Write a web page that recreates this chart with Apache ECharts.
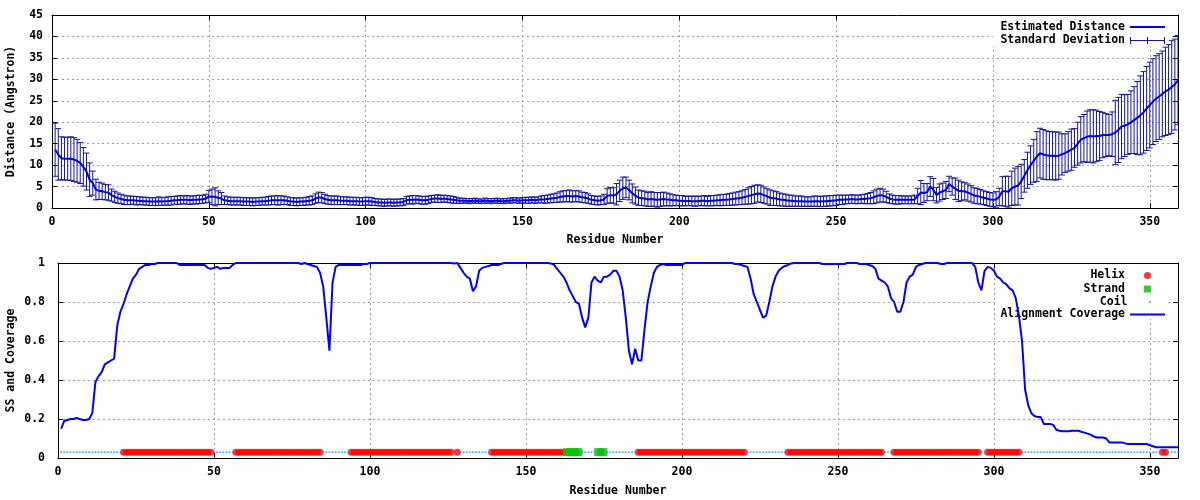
<!DOCTYPE html>
<html><head><meta charset="utf-8">
<script src="https://cdn.jsdelivr.net/npm/echarts@6/dist/echarts.min.js"></script>
<style>html,body{margin:0;padding:0;background:#fff}#c{width:1200px;height:500px}</style>
</head><body><div id="c"></div>
<script>
// ---- data (residue 1 .. 359) ----
const firstResidue = 1;
const distance = [
13.6,12.5,11.6,11.5,11.5,11.5,11.3,11.0,10.5,9.6,
8.5,6.6,5.8,4.3,4.0,3.9,3.7,3.6,3.0,2.6,
2.3,2.1,1.9,1.8,1.8,1.8,1.7,1.7,1.6,1.6,
1.5,1.5,1.5,1.6,1.5,1.6,1.6,1.7,1.8,1.8,
1.9,1.9,1.9,1.8,1.9,1.9,2.0,2.0,2.2,2.7,
2.6,2.6,2.4,2.2,1.8,1.7,1.6,1.6,1.6,1.6,
1.5,1.5,1.5,1.4,1.5,1.5,1.6,1.6,1.7,1.8,
1.8,1.8,1.8,1.8,1.7,1.5,1.5,1.4,1.5,1.5,
1.6,1.7,1.8,2.2,2.5,2.4,2.1,1.9,1.8,1.8,
1.8,1.7,1.7,1.7,1.6,1.6,1.6,1.5,1.5,1.6,
1.6,1.5,1.4,1.3,1.3,1.2,1.3,1.3,1.2,1.3,
1.3,1.4,1.8,1.9,1.9,2.0,1.9,1.8,1.8,1.9,
2.1,2.2,2.2,2.1,2.2,2.1,2.0,1.9,1.8,1.7,
1.7,1.7,1.6,1.7,1.7,1.6,1.6,1.7,1.7,1.6,
1.7,1.7,1.6,1.6,1.7,1.7,1.8,1.8,1.7,1.8,
1.8,1.8,1.9,1.8,1.9,2.0,2.0,2.1,2.2,2.3,
2.4,2.6,2.7,2.8,2.8,2.7,2.8,2.7,2.5,2.4,
2.2,1.9,1.8,1.7,1.8,2.0,2.8,3.0,2.9,3.2,
4.0,4.6,4.8,4.2,3.4,2.9,2.4,2.3,2.2,2.0,
2.1,2.0,1.9,2.0,2.1,2.0,1.9,1.8,1.8,1.7,
1.7,1.6,1.7,1.6,1.6,1.6,1.7,1.7,1.6,1.7,
1.7,1.8,1.8,1.9,1.9,2.0,2.1,2.2,2.3,2.4,
2.6,2.8,3.0,3.2,3.4,3.3,3.0,2.7,2.4,2.3,
2.2,2.0,1.9,1.8,1.7,1.7,1.6,1.6,1.6,1.5,
1.5,1.5,1.6,1.6,1.5,1.6,1.6,1.7,1.7,1.8,
1.9,1.9,2.0,2.0,2.1,2.0,2.0,2.1,2.1,2.2,
2.3,2.5,2.8,3.0,2.9,2.6,2.2,2.0,1.9,1.9,
1.9,1.9,1.9,1.9,2.0,2.8,3.6,3.5,3.7,5.0,
4.3,3.0,3.6,3.9,4.2,5.6,5.0,4.5,4.0,3.9,
3.9,3.6,3.3,2.9,2.8,2.6,2.4,2.2,2.0,1.9,
2.0,2.6,3.9,3.9,3.8,4.6,5.0,5.2,6.2,7.5,
8.8,10.0,11.0,12.0,12.8,12.5,12.3,12.2,12.2,12.1,
12.2,12.5,12.8,13.2,13.6,14.0,15.0,15.9,16.3,16.6,
16.8,16.7,16.8,16.8,17.0,17.0,17.0,17.2,17.6,18.2,
19.0,19.2,19.5,20.0,20.5,21.0,21.6,22.3,23.2,24.0,
24.8,25.5,26.0,26.6,27.2,27.6,28.2,28.8,29.8
];
const stdDev = [
6.2,6.0,5.0,5.0,5.0,5.1,5.1,5.0,4.8,4.5,
4.3,3.9,2.8,2.4,2.0,1.9,1.8,1.8,1.4,1.3,
1.2,1.1,1.1,1.0,1.0,0.9,1.0,0.9,0.9,0.9,
0.9,0.9,0.9,1.0,0.9,0.9,1.0,1.0,0.9,1.0,
1.0,0.9,1.0,1.0,0.9,1.0,1.0,0.9,1.0,1.4,
1.8,2.1,1.6,1.4,1.0,0.9,0.9,0.9,0.9,0.9,
0.9,0.9,0.9,0.9,0.9,0.9,0.9,0.9,1.0,1.0,
1.0,1.1,1.0,1.0,0.9,0.9,0.9,0.9,0.9,0.9,
0.9,1.0,1.0,1.1,1.2,1.2,1.1,1.0,1.0,1.0,
1.0,0.9,0.9,0.9,0.9,0.9,0.9,0.9,0.9,0.9,
0.9,0.9,0.8,0.8,0.8,0.8,0.8,0.8,0.8,0.8,
0.8,0.8,0.9,0.9,1.0,0.9,0.9,0.9,0.9,0.9,
0.8,0.8,0.9,0.8,0.8,0.8,0.8,0.8,0.7,0.6,
0.6,0.5,0.6,0.5,0.6,0.5,0.5,0.6,0.5,0.6,
0.5,0.6,0.5,0.6,0.5,0.6,0.6,0.6,0.6,0.6,
0.7,0.7,0.7,0.7,0.7,0.8,0.9,0.9,1.0,1.0,
1.1,1.2,1.3,1.3,1.4,1.3,1.3,1.3,1.2,1.2,
1.1,1.0,1.0,1.0,1.0,1.2,1.7,1.8,1.8,2.5,
2.5,2.6,2.4,2.3,2.2,2.0,1.8,1.7,1.7,1.6,
1.7,1.6,1.7,1.6,1.6,1.5,1.4,1.3,1.2,1.2,
1.2,1.1,1.1,1.1,1.2,1.1,1.1,1.2,1.1,1.2,
1.2,1.2,1.3,1.3,1.3,1.4,1.4,1.5,1.5,1.6,
1.7,1.9,2.0,2.1,2.0,2.0,1.9,1.8,1.8,1.7,
1.6,1.5,1.4,1.4,1.3,1.3,1.2,1.2,1.2,1.1,
1.1,1.1,1.2,1.2,1.2,1.2,1.2,1.2,1.2,1.2,
1.1,1.1,1.0,1.0,1.0,1.0,1.0,1.0,1.1,1.2,
1.3,1.5,1.6,1.6,1.5,1.3,1.1,1.0,1.0,1.0,
0.9,0.9,0.9,0.9,1.0,1.8,2.8,2.2,2.0,2.3,
2.6,1.8,2.0,1.9,2.0,1.8,2.0,2.5,2.5,2.2,
2.0,2.0,1.9,1.8,1.8,1.7,1.6,1.6,1.6,1.6,
1.8,2.0,3.4,3.5,3.6,4.0,4.3,4.5,4.0,3.8,
4.2,4.5,5.0,5.8,5.8,5.8,5.7,5.6,5.6,5.6,
5.5,4.8,4.5,4.6,4.8,4.5,5.0,5.4,5.5,6.0,
6.1,6.2,6.0,5.7,5.3,5.0,4.8,5.2,7.5,7.6,
7.5,7.2,7.0,7.3,7.8,8.5,9.2,9.5,9.8,10.0,
10.0,10.0,10.0,10.0,10.3,10.5,10.8,10.6,10.4
];
const coverage = [
0.15,0.19,0.195,0.2,0.2,0.205,0.2,0.195,0.195,0.2,
0.23,0.39,0.42,0.44,0.48,0.49,0.5,0.51,0.68,0.75,
0.79,0.84,0.88,0.92,0.94,0.97,0.98,0.99,0.99,0.995,
0.995,1,1,1,1,1,1,1,0.99,0.99,
0.99,0.99,0.99,0.99,0.99,0.99,0.99,0.975,0.97,0.975,
0.98,0.97,0.975,0.975,0.975,0.99,1,1,1,1,
1,1,1,1,1,1,1,1,1,1,
1,1,1,1,1,1,1,0.995,1,0.995,
0.99,0.985,0.98,0.95,0.88,0.72,0.55,0.9,0.98,0.99,
0.99,0.99,0.99,0.99,0.99,0.99,0.99,0.995,0.995,1,
1,1,1,1,1,1,1,1,1,1,
1,1,1,1,1,1,1,1,1,1,
1,1,1,1,1,1,0.998,1,0.975,0.95,
0.93,0.92,0.855,0.88,0.96,0.975,0.98,0.985,0.99,0.99,
0.99,0.995,1,1,1,1,1,1,1,1,
1,1,1,1,1,1,1,0.998,0.99,0.97,
0.95,0.93,0.9,0.86,0.83,0.8,0.79,0.72,0.67,0.72,
0.9,0.93,0.91,0.9,0.93,0.93,0.94,0.96,0.96,0.93,
0.86,0.72,0.55,0.48,0.56,0.5,0.5,0.66,0.8,0.88,
0.95,0.98,0.99,0.995,0.99,0.99,0.99,0.99,0.99,0.99,
1,1,1,1,1,1,1,1,1,1,
1,1,1,1,1,1,0.995,0.995,0.99,0.985,
0.98,0.92,0.84,0.8,0.76,0.72,0.73,0.8,0.88,0.93,
0.96,0.975,0.985,0.99,0.998,1,1,1,1,1,
1,1,1,1,0.995,0.995,0.995,0.995,0.995,0.995,
0.995,0.995,1,1,1,1,0.995,0.995,0.995,0.99,
0.985,0.97,0.92,0.91,0.9,0.88,0.82,0.8,0.75,0.75,
0.8,0.9,0.93,0.94,0.98,0.99,0.995,1,1,1,
1,1,0.995,0.995,1,1,1,1,1,1,
1,1,1,0.98,0.9,0.86,0.96,0.98,0.975,0.96,
0.93,0.92,0.9,0.89,0.87,0.86,0.82,0.73,0.6,0.35,
0.27,0.23,0.215,0.21,0.21,0.175,0.175,0.175,0.17,0.145,
0.14,0.137,0.137,0.137,0.14,0.14,0.14,0.135,0.13,0.125,
0.12,0.11,0.105,0.105,0.105,0.1,0.08,0.08,0.08,0.08,
0.08,0.075,0.072,0.072,0.072,0.072,0.072,0.072,0.072,0.065,
0.06,0.055,0.055,0.055,0.055,0.055,0.055,0.055,0.055
];
const helixRanges = [[21,49],[57,84],[94,126],[128,128],[139,162],[186,220],[234,264],[268,295],[298,308],[354,355]];
const strandRanges = [[163,167],[173,175]];
const ssLevel = 0.03;
const residueAxis = {min: 0, max: 359, interval: 50};
const distanceAxis = {min: 0, max: 45, interval: 5};
const coverageAxis = {min: 0, max: 1, interval: 0.2};

// ---- build series data ----
const residues = distance.map((_, i) => firstResidue + i);
const distData = residues.map((r, i) => [r, distance[i]]);
const errData = residues.map((r, i) => [r, distance[i] - stdDev[i], distance[i] + stdDev[i]]);
const covData = residues.map((r, i) => [r, coverage[i]]);
function expand(ranges) { const s = new Set(); ranges.forEach(([a, b]) => { for (let r = a; r <= b; r++) s.add(r); }); return s; }
const helixSet = expand(helixRanges), strandSet = expand(strandRanges);
const helixData = residues.filter(r => helixSet.has(r)).map(r => [r, ssLevel]);
const strandData = residues.filter(r => strandSet.has(r)).map(r => [r, ssLevel]);
const coilData = residues.filter(r => !helixSet.has(r) && !strandSet.has(r)).map(r => [r, ssLevel]);

// ---- styling ----
const FONT = 'DejaVu Sans Mono';
const txt = {fontFamily: FONT, fontWeight: 'bold', fontSize: 11.5, color: '#000'};
const gridLine = {show: true, showMinLine: false, showMaxLine: false, lineStyle: {color: '#a0a0a0', type: [2, 3], width: 1}};
const tick = {show: true, inside: true, length: 5, lineStyle: {color: '#000'}};
const axLine = {show: true, onZero: false, lineStyle: {color: '#000', width: 1}};
const BAR_COLOR = '#1414a0';
const LINE_COLOR = '#0000e6';

function xMain(gi, margin, gap) {
  return {type: 'value', gridIndex: gi, position: 'bottom', ...residueAxis,
    name: 'Residue Number', nameLocation: 'middle', nameGap: gap, nameTextStyle: txt, nameMoveOverlap: false,
    axisLine: axLine, axisTick: tick, splitLine: gridLine,
    axisLabel: {...txt, margin: margin, showMaxLabel: false}};
}
function xMirror(gi) {
  return {type: 'value', gridIndex: gi, position: 'top', ...residueAxis,
    axisLine: axLine, axisTick: tick, splitLine: {show: false}, axisLabel: {show: false}};
}
function yMain(gi, ax, name, gap, margin) {
  return {type: 'value', gridIndex: gi, position: 'left', ...ax,
    name: name, nameLocation: 'middle', nameGap: gap, nameTextStyle: txt, nameMoveOverlap: false,
    axisLine: axLine, axisTick: tick, splitLine: gridLine,
    axisLabel: {...txt, margin: margin}};
}
function yMirror(gi, ax) {
  return {type: 'value', gridIndex: gi, position: 'right', ...ax,
    axisLine: axLine, axisTick: tick, splitLine: {show: false}, axisLabel: {show: false}};
}

const legendBase = {orient: 'vertical', align: 'right', right: 35, padding: 0, itemWidth: 35,
  selectedMode: false, textStyle: {...txt, lineHeight: 13}};
const lineIcon = 'path://M0,0H70V4H0Z';
const errIcon = 'path://M0,6H70V8H0Z M0,0H2V14H0Z M68,0H70V14H68Z M34,0H36V14H34Z';
const squareIcon = 'path://M0,0H10V10H0Z';

const option = {
  animation: false,
  backgroundColor: '#fff',
  grid: [
    {left: 52, top: 15, width: 1126, height: 193, outerBoundsMode: 'none', containLabel: false},
    {left: 58, top: 263, width: 1120, height: 195, outerBoundsMode: 'none', containLabel: false}
  ],
  xAxis: [xMain(0, 8, 26), xMirror(0), xMain(1, 8, 27), xMirror(1)],
  yAxis: [
    yMain(0, distanceAxis, 'Distance (Angstron)', 35, 9), yMirror(0, distanceAxis),
    yMain(1, coverageAxis, 'SS and Coverage', 41, 13), yMirror(1, coverageAxis)
  ],
  graphic: [
    {type: 'rect', z: 1, silent: true, shape: {x: 993, y: 16, width: 176, height: 30}, style: {fill: '#fff'}},
    {type: 'rect', z: 1, silent: true, shape: {x: 996, y: 264, width: 172, height: 55}, style: {fill: '#fff'}}
  ],
  legend: [
    {...legendBase, top: 20.5, itemHeight: 13, data: [{name: 'Estimated Distance', icon: lineIcon}]},
    {...legendBase, top: 34, itemHeight: 13, data: [{name: 'Standard Deviation', icon: errIcon}]},
    {...legendBase, right: 49, top: 269, itemHeight: 7, data: [{name: 'Helix', icon: 'circle'}]},
    {...legendBase, right: 49, top: 282.5, itemHeight: 7, data: [{name: 'Strand', icon: squareIcon}]},
    {...legendBase, right: 49, top: 295.5, itemHeight: 2, data: [{name: 'Coil', icon: 'circle'}]},
    {...legendBase, top: 308, itemHeight: 13, data: [{name: 'Alignment Coverage', icon: lineIcon}]}
  ],
  series: [
    {
      name: 'Standard Deviation', type: 'custom', xAxisIndex: 0, yAxisIndex: 0, z: 2, clip: true,
      itemStyle: {color: BAR_COLOR},
      encode: {x: 0, y: [1, 2]},
      data: errData,
      renderItem: function (params, api) {
        const x = api.value(0);
        const lo = api.coord([x, api.value(1)]);
        const hi = api.coord([x, api.value(2)]);
        const w = 3;
        const st = {stroke: BAR_COLOR, lineWidth: 1};
        return {type: 'group', children: [
          {type: 'line', shape: {x1: lo[0], y1: lo[1], x2: hi[0], y2: hi[1]}, style: st},
          {type: 'line', shape: {x1: lo[0] - w, y1: lo[1], x2: lo[0] + w, y2: lo[1]}, style: st},
          {type: 'line', shape: {x1: hi[0] - w, y1: hi[1], x2: hi[0] + w, y2: hi[1]}, style: st}
        ]};
      }
    },
    {
      name: 'Estimated Distance', type: 'line', xAxisIndex: 0, yAxisIndex: 0, z: 3,
      showSymbol: false, data: distData, itemStyle: {color: LINE_COLOR},
      lineStyle: {color: LINE_COLOR, width: 2}
    },
    {
      name: 'Helix', type: 'scatter', xAxisIndex: 2, yAxisIndex: 2, z: 3,
      symbol: 'circle', symbolSize: 7, data: helixData, itemStyle: {color: '#ff0000'}
    },
    {
      name: 'Strand', type: 'scatter', xAxisIndex: 2, yAxisIndex: 2, z: 3,
      symbol: 'rect', symbolSize: [7, 8], data: strandData, itemStyle: {color: '#00c000'}
    },
    {
      name: 'Coil', type: 'scatter', xAxisIndex: 2, yAxisIndex: 2, z: 3,
      symbol: 'circle', symbolSize: 2, data: coilData, itemStyle: {color: '#1e8cff'}
    },
    {
      name: 'Alignment Coverage', type: 'line', xAxisIndex: 2, yAxisIndex: 2, z: 4,
      showSymbol: false, data: covData, itemStyle: {color: '#0000ff'},
      lineStyle: {color: '#0000ff', width: 2}
    }
  ]
};
const chart = echarts.init(document.getElementById('c'), null, {renderer: 'canvas'});
chart.setOption(option);
</script>
</body></html>
